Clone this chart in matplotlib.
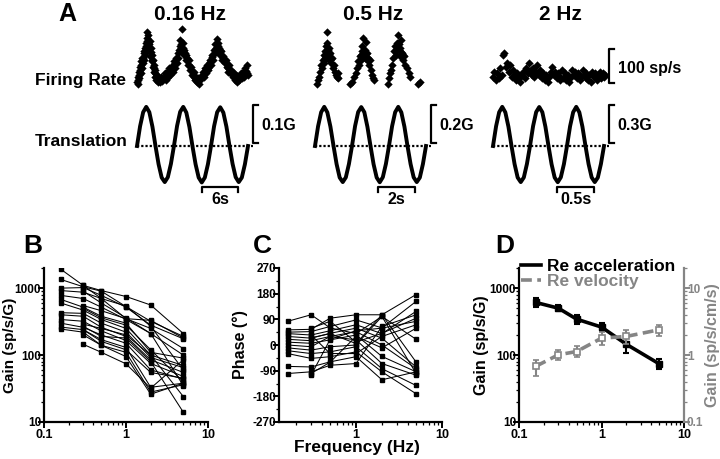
import numpy as np
import matplotlib
matplotlib.use("Agg")
import matplotlib.pyplot as plt
from matplotlib.lines import Line2D
from matplotlib.ticker import FixedLocator, FixedFormatter, LogLocator, NullFormatter, MultipleLocator

# ---------------- data : panel A ----------------
freqs_A = [0.16, 0.5, 2.0]
titles_A = ["0.16 Hz", "0.5 Hz", "2 Hz"]
g_scale_vals = [0.1, 0.2, 0.3]
g_scale_labels = ["0.1G", "0.2G", "0.3G"]
time_bar_vals = [6.0, 2.0, 0.5]
time_bar_labels = ["6s", "2s", "0.5s"]
time_bar_start = [11.0, 3.4, 0.87]
rate_bar_val = 100  # sp/s

# firing rate (time s, rate sp/s)
fr_016 = [(0.0,30),(0.1,45),(0.2,25),(0.3,60),(0.4,40),(0.5,75),(0.6,55),(0.7,90),(0.8,70),(0.9,100),
          (1.0,85),(1.1,115),(1.2,95),(1.3,130),(1.4,110),(1.45,145),(1.55,125),(1.65,176),(1.7,150),
          (1.75,160),(1.85,168),(1.95,140),(2.05,120),(2.15,150),(2.25,105),(2.35,130),(2.45,90),
          (2.55,110),(2.65,75),(2.75,95),(2.8,60),(2.9,80),(3.0,45),(3.1,65),(3.2,35),(3.4,50),(3.5,30),
          (3.7,40),(3.9,28),(4.1,45),(4.3,32),
          (0.15,35),(0.35,50),(0.55,65),(0.75,80),(1.05,100),(1.25,120),(1.5,135),(1.8,145),(2.0,130),
          (2.3,118),(2.6,95),(2.85,70),(3.05,55),(3.3,42),(3.6,38),(4.0,35),
          (4.5,40),(4.7,55),(4.85,35),(5.05,60),(5.25,45),(5.45,70),(5.65,50),(5.85,78),(6.05,60),
          (6.2,90),(6.4,72),(6.6,100),(6.8,85),(7.0,115),(7.2,135),(7.3,153),(7.4,120),(7.5,140),
          (7.6,185),(7.7,130),(7.8,145),(7.9,110),(8.0,125),(8.2,95),(8.35,110),(8.55,80),(8.75,95),
          (8.95,65),(9.15,75),(9.35,50),(9.55,60),(9.75,35),(9.9,45),(10.1,28),
          (4.9,48),(5.35,55),(5.75,62),(6.1,75),(6.5,85),(6.9,100),(7.1,125),(7.45,130),(7.75,120),
          (8.1,115),(8.45,100),(8.85,80),(9.25,62),(9.65,45),(10.0,38),
          (10.3,40),(10.5,25),(10.7,35),(10.9,50),
          (11.1,60),(11.3,45),(11.5,70),(11.7,55),(11.85,80),(12.05,65),(12.25,95),(12.45,80),
          (12.65,110),(12.85,95),(13.05,125),(13.25,140),(13.45,155),(13.5,120),(13.6,145),(13.8,130),
          (14.0,110),(14.2,120),(14.4,95),(14.6,105),(14.8,85),(15.0,95),(15.2,75),(15.4,60),
          (15.55,80),(15.75,55),(15.95,65),(16.15,45),(16.35,55),(16.55,35),(16.75,50),(16.95,30),
          (17.1,45),(17.3,35),(17.5,55),(17.7,40),(17.9,60),(18.1,45),(18.3,70),(18.5,55),(18.6,80),(18.7,50),
          (11.4,52),(11.95,72),(12.35,88),(12.75,102),(13.15,115),(13.35,130),(13.7,135),(14.1,125),
          (14.5,100),(14.9,90),(15.3,70),(15.85,62),(16.25,50),(16.65,42),(17.2,40),(17.8,48),(18.4,62)]
fr_05 = [(0.10,25),(0.15,35),(0.24,45),(0.29,60),(0.34,80),(0.39,70),(0.44,95),(0.49,110),(0.49,85),
         (0.54,120),(0.58,100),(0.58,135),(0.63,145),(0.65,176),(0.68,125),(0.70,110),(0.73,130),
         (0.78,95),(0.83,115),(0.88,85),(0.92,100),(0.97,70),(1.02,80),(1.07,60),(1.12,50),(1.17,45),
         (1.22,55),(1.26,40),(0.52,100),(0.6,118),(0.66,105),(0.75,112),(0.85,98),
         (1.90,25),(2.0,30),(2.09,45),(2.19,55),(2.29,70),(2.34,90),(2.38,80),(2.43,105),(2.48,95),
         (2.53,120),(2.55,135),(2.6,159),(2.63,110),(2.68,125),(2.72,100),(2.77,147),(2.82,115),
         (2.87,90),(2.92,80),(2.97,95),(3.02,65),(3.07,50),(3.11,40),(3.21,35),(2.5,110),(2.65,118),
         (2.75,112),(2.85,100),
         (3.94,25),(3.99,40),(4.04,55),(4.09,65),(4.18,80),(4.23,100),(4.28,120),(4.33,135),(4.38,110),
         (4.43,145),(4.48,168),(4.52,125),(4.57,105),(4.62,130),(4.67,153),(4.72,115),(4.77,95),
         (4.82,105),(4.87,80),(4.96,70),(5.06,55),(5.16,45),(5.55,25),(5.65,30),(4.35,122),(4.45,128),
         (4.55,140),(4.65,118),(4.75,108)]
fr_2 = [(0.0,45),(0.02,60),(0.04,35),(0.06,55),(0.08,40),(0.1,70),(0.12,50),(0.13,109),(0.15,115),
        (0.18,75),(0.19,85),(0.21,60),(0.23,79),(0.25,45),(0.27,65),(0.29,50),(0.31,35),(0.33,55),
        (0.35,40),(0.37,30),(0.39,50),(0.41,60),(0.43,40),(0.45,70),(0.47,55),(0.49,85),(0.51,65),
        (0.53,50),(0.54,70),(0.56,45),(0.58,60),(0.6,80),(0.62,50),(0.64,65),(0.66,40),(0.68,55),
        (0.7,35),(0.72,50),(0.74,30),(0.76,45),(0.78,60),(0.8,73),(0.82,50),(0.84,60),(0.86,40),
        (0.88,55),(0.9,35),(0.91,45),(0.93,65),(0.95,40),(0.97,55),(0.99,35),(1.01,50),(1.03,30),
        (1.05,45),(1.07,65),(1.09,50),(1.11,60),(1.13,40),(1.15,55),(1.17,35),(1.19,45),(1.21,65),
        (1.23,50),(1.25,40),(1.26,55),(1.28,35),(1.3,50),(1.32,30),(1.34,60),(1.36,45),(1.38,55),
        (1.4,35),(1.42,50),(1.44,59),(1.46,40),(1.48,55),(1.5,45),(1.52,50)]

# translation (G), 12 samples per cycle over 3 cycles
trans_016 = [0.000, 0.052, 0.089, 0.103, 0.089, 0.051, 0.000, -0.048, -0.083, -0.095, -0.082, -0.047,
             0.001, 0.053, 0.090, 0.103, 0.088, 0.050, -0.001, -0.048, -0.083, -0.096, -0.083, -0.048,
             0.000, 0.052, 0.089, 0.102, 0.088, 0.051, 0.000, -0.047, -0.082, -0.095, -0.083, -0.048, 0.000]
trans_05 = [0.000, 0.104, 0.178, 0.206, 0.177, 0.102, 0.001, -0.095, -0.166, -0.190, -0.165, -0.095,
            0.000, 0.105, 0.179, 0.205, 0.178, 0.101, 0.000, -0.096, -0.166, -0.191, -0.164, -0.094,
            0.001, 0.104, 0.178, 0.206, 0.177, 0.102, 0.000, -0.095, -0.165, -0.190, -0.166, -0.095, 0.000]
trans_2 = [0.000, 0.156, 0.267, 0.309, 0.266, 0.153, 0.001, -0.143, -0.249, -0.285, -0.248, -0.142,
           0.000, 0.157, 0.268, 0.308, 0.267, 0.152, 0.000, -0.144, -0.249, -0.286, -0.247, -0.143,
           0.001, 0.156, 0.267, 0.309, 0.266, 0.153, 0.000, -0.143, -0.248, -0.285, -0.249, -0.142, 0.000]

# ---------------- data : panels B-D ----------------
nan = np.nan
freqs = [0.16, 0.3, 0.5, 1.0, 2.0, 5.0]
gain_B = [
    [1920, 1100, 920, 750, 560, 210],
    [1350, 1050, 900, 530, 320, 190],
    [1000, 1020, 780, 520, 280, 175],
    [920, 870, 700, 350, 250, 125],
    [780, 700, 520, 340, 210, 100],
    [680, 520, 380, 300, 110, 90],
    [600, 470, 340, 250, 100, 70],
    [430, 420, 300, 220, 92, 65],
    [400, 380, 260, 190, 85, 55],
    [340, 320, 230, 165, 75, 48],
    [300, 260, 200, 150, 60, 44],
    [262, 240, 170, 130, 33, 38],
    [245, 220, 140, 110, 28, 36],
    [nan, 550, 460, 350, 330, 180],
    [nan, 500, 360, 280, 120, 40],
    [nan, 290, 250, 200, 100, 24],
    [nan, 270, 190, 180, 80, 14],
    [nan, 240, 160, 120, 55, 45],
    [nan, 200, 140, 95, 26, 38],
    [nan, 145, 110, 74, 32, 85],
    [nan, 1100, 700, 540, 270, 60],
    [nan, 900, 600, 360, 210, 35],
]
phase_C = [
    [83, 106, 60, 40, 100, -100],
    [53, 55, 94, 106, 106, 177],
    [45, 47, 65, 88, 60, 153],
    [40, 35, 50, 71, 40, 118],
    [30, 24, 41, 59, 24, -77],
    [20, 15, 30, 47, 0, -83],
    [10, 6, 18, 35, -40, -94],
    [0, -6, 30, 18, -65, -106],
    [-10, -18, -6, 0, 100, 20],
    [-20, -30, -24, -6, -83, -142],
    [-30, -47, -41, -24, -94, -171],
    [-75, -77, -59, -41, -122, -94],
    [-100, -94, -71, -65, 65, 106],
    [nan, 59, 83, 10, 41, 94],
    [nan, -106, 20, 50, 59, 83],
    [nan, 25, 40, 5, 106, -60],
    [nan, 35, -30, -30, 30, 71],
    [nan, -100, -60, 30, -10, 59],
]
acc_mean = [611, 502, 344, 262, 145, 74]
acc_lo = [520, 449, 294, 226, 107, 62]
acc_hi = [710, 564, 400, 300, 201, 87]
vel_mean = [0.68, 1.01, 1.13, 1.79, 1.90, 2.39]
vel_lo = [0.48, 0.85, 0.93, 1.43, 1.48, 1.95]
vel_hi = [0.83, 1.20, 1.38, 2.25, 2.39, 2.84]
legend_labels = ["Re acceleration", "Re velocity"]

# ---------------- figure ----------------
W, H = 720, 459
REG = ['Liberation Sans', 'DejaVu Sans']
plt.rcParams['font.family'] = REG
plt.rcParams['font.weight'] = 'bold'
plt.rcParams['axes.labelweight'] = 'bold'
GRAY = '#858585'
TICK_FS = 8.5
LAB_FS = 11

fig = plt.figure(figsize=(W / 100, H / 100), dpi=100)


def px_axes(x0, y0, x1, y1):
    return fig.add_axes([x0 / W, 1 - y1 / H, (x1 - x0) / W, (y1 - y0) / H])


def ftext(x, y, s, **kw):
    fig.text(x / W, 1 - y / H, s, **kw)


# ---------- panel A ----------
x_starts = [137, 315, 493]
PERIOD_PX = 37
fr_sets = [fr_016, fr_05, fr_2]
tr_sets = [trans_016, trans_05, trans_2]
title_cx = [190, 373, 560]

ftext(67, 14, "A", fontsize=18, fontweight='bold', ha='center', va='center')
ftext(35, 80, "Firing Rate", fontsize=12.5, fontweight='bold', ha='left', va='center')
ftext(35, 142, "Translation", fontsize=12.5, fontweight='bold', ha='left', va='center')

for i, f in enumerate(freqs_A):
    x0 = x_starts[i]
    T = 1.0 / f
    tmax = 3 * T
    pps = PERIOD_PX * f  # pixels per second
    s = g_scale_vals[i]
    ftext(title_cx[i], 15, titles_A[i], fontsize=15, fontweight='bold', ha='center', va='center')

    axf = px_axes(x0, 20, x0 + 3 * PERIOD_PX, 92)
    axf.set_xlim(0, tmax)
    axf.set_ylim(0, 212)
    axf.axis('off')
    t, r = zip(*fr_sets[i])
    axf.scatter(t, r, s=18, marker='D', color='black', linewidths=0, clip_on=False)

    axt = px_axes(x0, 100, x0 + 3 * PERIOD_PX, 190)
    axt.set_xlim(0, tmax)
    axt.set_ylim(-44 / 38 * s, 46 / 38 * s)
    axt.axis('off')
    tt = np.linspace(0, tmax, len(tr_sets[i]))
    axt.plot(tt, tr_sets[i], color='black', lw=2.8, solid_joinstyle='round', clip_on=False)
    xb = 3.13 * T
    axt.plot([0, xb], [0, 0], color='black', lw=1.6, dashes=(1, 0.9), clip_on=False)
    tick = 5 / pps
    lo, hi = 0.08 * s, 0.08 * s + g_scale_vals[i]
    axt.plot([xb + tick, xb, xb, xb + tick], [lo, lo, hi, hi], color='black', lw=1.6, clip_on=False)
    axt.text(xb + 9 / pps, 0.55 * s, g_scale_labels[i], fontsize=11.5, fontweight='bold',
             ha='left', va='center')
    a = time_bar_start[i]
    b = a + time_bar_vals[i]
    ytop, ybot = -41 / 38 * s, -46 / 38 * s
    axt.plot([a, a, b, b], [ybot, ytop, ytop, ybot], color='black', lw=1.6, clip_on=False)
    axt.text((a + b) / 2, -54 / 38 * s, time_bar_labels[i], fontsize=11.5, fontweight='bold',
             ha='center', va='center')

    if i == 2:
        rlo = 26
        rhi = rlo + rate_bar_val
        axf.plot([xb + tick, xb, xb, xb + tick], [rlo, rlo, rhi, rhi], color='black', lw=1.6, clip_on=False)
        axf.text(xb + 9 / pps, 68, "100 sp/s", fontsize=11.5, fontweight='bold',
                 ha='left', va='center')


# ---------- helpers for B-D ----------
def style_axes(ax, ypad=-2):
    ax.spines['top'].set_visible(False)
    ax.spines['right'].set_visible(False)
    for sp in ax.spines.values():
        sp.set_linewidth(1.6)
    ax.tick_params(which='major', direction='out', length=4, width=1.4, labelsize=TICK_FS + 0.5, pad=1)
    ax.tick_params(axis='y', which='major', pad=ypad, labelsize=TICK_FS)
    ax.tick_params(which='minor', direction='out', length=2.2, width=0.9)


def log_x(ax, ticks, labels):
    ax.set_xscale('log')
    ax.xaxis.set_major_locator(FixedLocator(ticks))
    ax.xaxis.set_major_formatter(FixedFormatter(labels))
    ax.xaxis.set_minor_locator(LogLocator(base=10, subs=np.arange(2, 10)))
    ax.xaxis.set_minor_formatter(NullFormatter())


def log_y(ax, ticks, labels):
    ax.set_yscale('log')
    ax.yaxis.set_major_locator(FixedLocator(ticks))
    ax.yaxis.set_major_formatter(FixedFormatter(labels))
    ax.yaxis.set_minor_locator(LogLocator(base=10, subs=np.arange(2, 10)))
    ax.yaxis.set_minor_formatter(NullFormatter())


for lab, cx in zip(["B", "C", "D"], [33, 262, 505]):
    ftext(cx, 246, lab, fontsize=19, fontweight='bold', ha='center', va='center')

# ---------- panel B ----------
axB = px_axes(44, 268, 208, 422)
for g in gain_B:
    axB.plot(freqs, g, color='black', lw=0.75, marker='s', ms=2.6)
log_x(axB, [0.1, 1, 10], ['0.1', '1', '10'])
log_y(axB, [10, 100, 1000], ['10', '100', '1000'])
axB.set_xlim(0.1, 10)
axB.set_ylim(10, 2000)
style_axes(axB)
axB.set_ylabel("Gain (sp/s/G)", fontsize=LAB_FS)
axB.yaxis.set_label_coords(-0.163, 0.5)

# ---------- panel C ----------
axC = px_axes(279, 268, 442, 422)
for p in phase_C:
    axC.plot(freqs, p, color='black', lw=0.75, marker='s', ms=2.6)
log_x(axC, [1, 10], ['1', '10'])
axC.set_xlim(0.127, 10)
axC.set_ylim(-270, 270)
axC.yaxis.set_major_locator(FixedLocator([-270, -180, -90, 0, 90, 180, 270]))
axC.yaxis.set_major_formatter(FixedFormatter(['-270', '-180', '-90', '0', '90', '180', '270']))
axC.yaxis.set_minor_locator(MultipleLocator(45))
style_axes(axC)
axC.set_ylabel("Phase (°)", fontsize=LAB_FS + 0.5)
axC.yaxis.set_label_coords(-0.19, 0.5)
axC.set_xlabel("Frequency (Hz)", fontsize=LAB_FS + 1.5)
axC.xaxis.set_label_coords(0.48, -0.115)

# ---------- panel D ----------
axD = px_axes(519, 268, 684, 422)
acc_err = [np.array(acc_mean) - np.array(acc_lo), np.array(acc_hi) - np.array(acc_mean)]
axD.errorbar(freqs, acc_mean, yerr=acc_err, color='black', lw=2.6, marker='s', ms=4,
             capsize=2.5, elinewidth=1.5, capthick=1.5, zorder=3)
log_x(axD, [0.1, 1, 10], ['0.1', '1', '10'])
log_y(axD, [10, 100, 1000], ['10', '100', '1000'])
axD.set_xlim(0.1, 10)
axD.set_ylim(10, 2000)
style_axes(axD)
axD.set_ylabel("Gain (sp/s/G)", fontsize=LAB_FS + 0.5)
axD.yaxis.set_label_coords(-0.18, 0.5)

axD2 = axD.twinx()
vel_err = [np.array(vel_mean) - np.array(vel_lo), np.array(vel_hi) - np.array(vel_mean)]
eb = axD2.errorbar(freqs, vel_mean, yerr=vel_err, color=GRAY, lw=2.6, marker='s', ms=4.5,
                   mfc='white', mec=GRAY, mew=1.2, capsize=2.5, elinewidth=1.5, capthick=1.5)
eb[0].set_dashes((3, 1.5))
log_y(axD2, [0.1, 1, 10], ['0.1', '1', '10'])
axD2.set_ylim(0.1, 20)
axD2.set_xlim(0.1, 10)
for k in ['top', 'left', 'bottom']:
    axD2.spines[k].set_visible(False)
axD2.spines['right'].set_color(GRAY)
axD2.spines['right'].set_linewidth(1.6)
axD2.tick_params(which='major', direction='out', length=4, width=1.4, labelsize=TICK_FS, pad=-2,
                 colors=GRAY)
axD2.tick_params(which='minor', direction='out', length=2.2, width=0.9, colors=GRAY)
axD2.set_ylabel("Gain (sp/s/cm/s)", fontsize=LAB_FS + 0.5, color=GRAY)
axD2.yaxis.set_label_coords(1.13, 0.5)

handles = [Line2D([], [], color='black', lw=2.6),
           Line2D([], [], color=GRAY, lw=2.6, dashes=(3, 1.5))]
leg = axD.legend(handles, legend_labels, loc='upper left', bbox_to_anchor=(0.01, 1.06),
                 frameon=False, fontsize=12.5, handlelength=1.2, handletextpad=0.3,
                 labelspacing=0.0, borderpad=0, borderaxespad=0)
leg.get_texts()[1].set_color(GRAY)
leg.set_zorder(5)

fig.savefig("out.png", dpi=100)
